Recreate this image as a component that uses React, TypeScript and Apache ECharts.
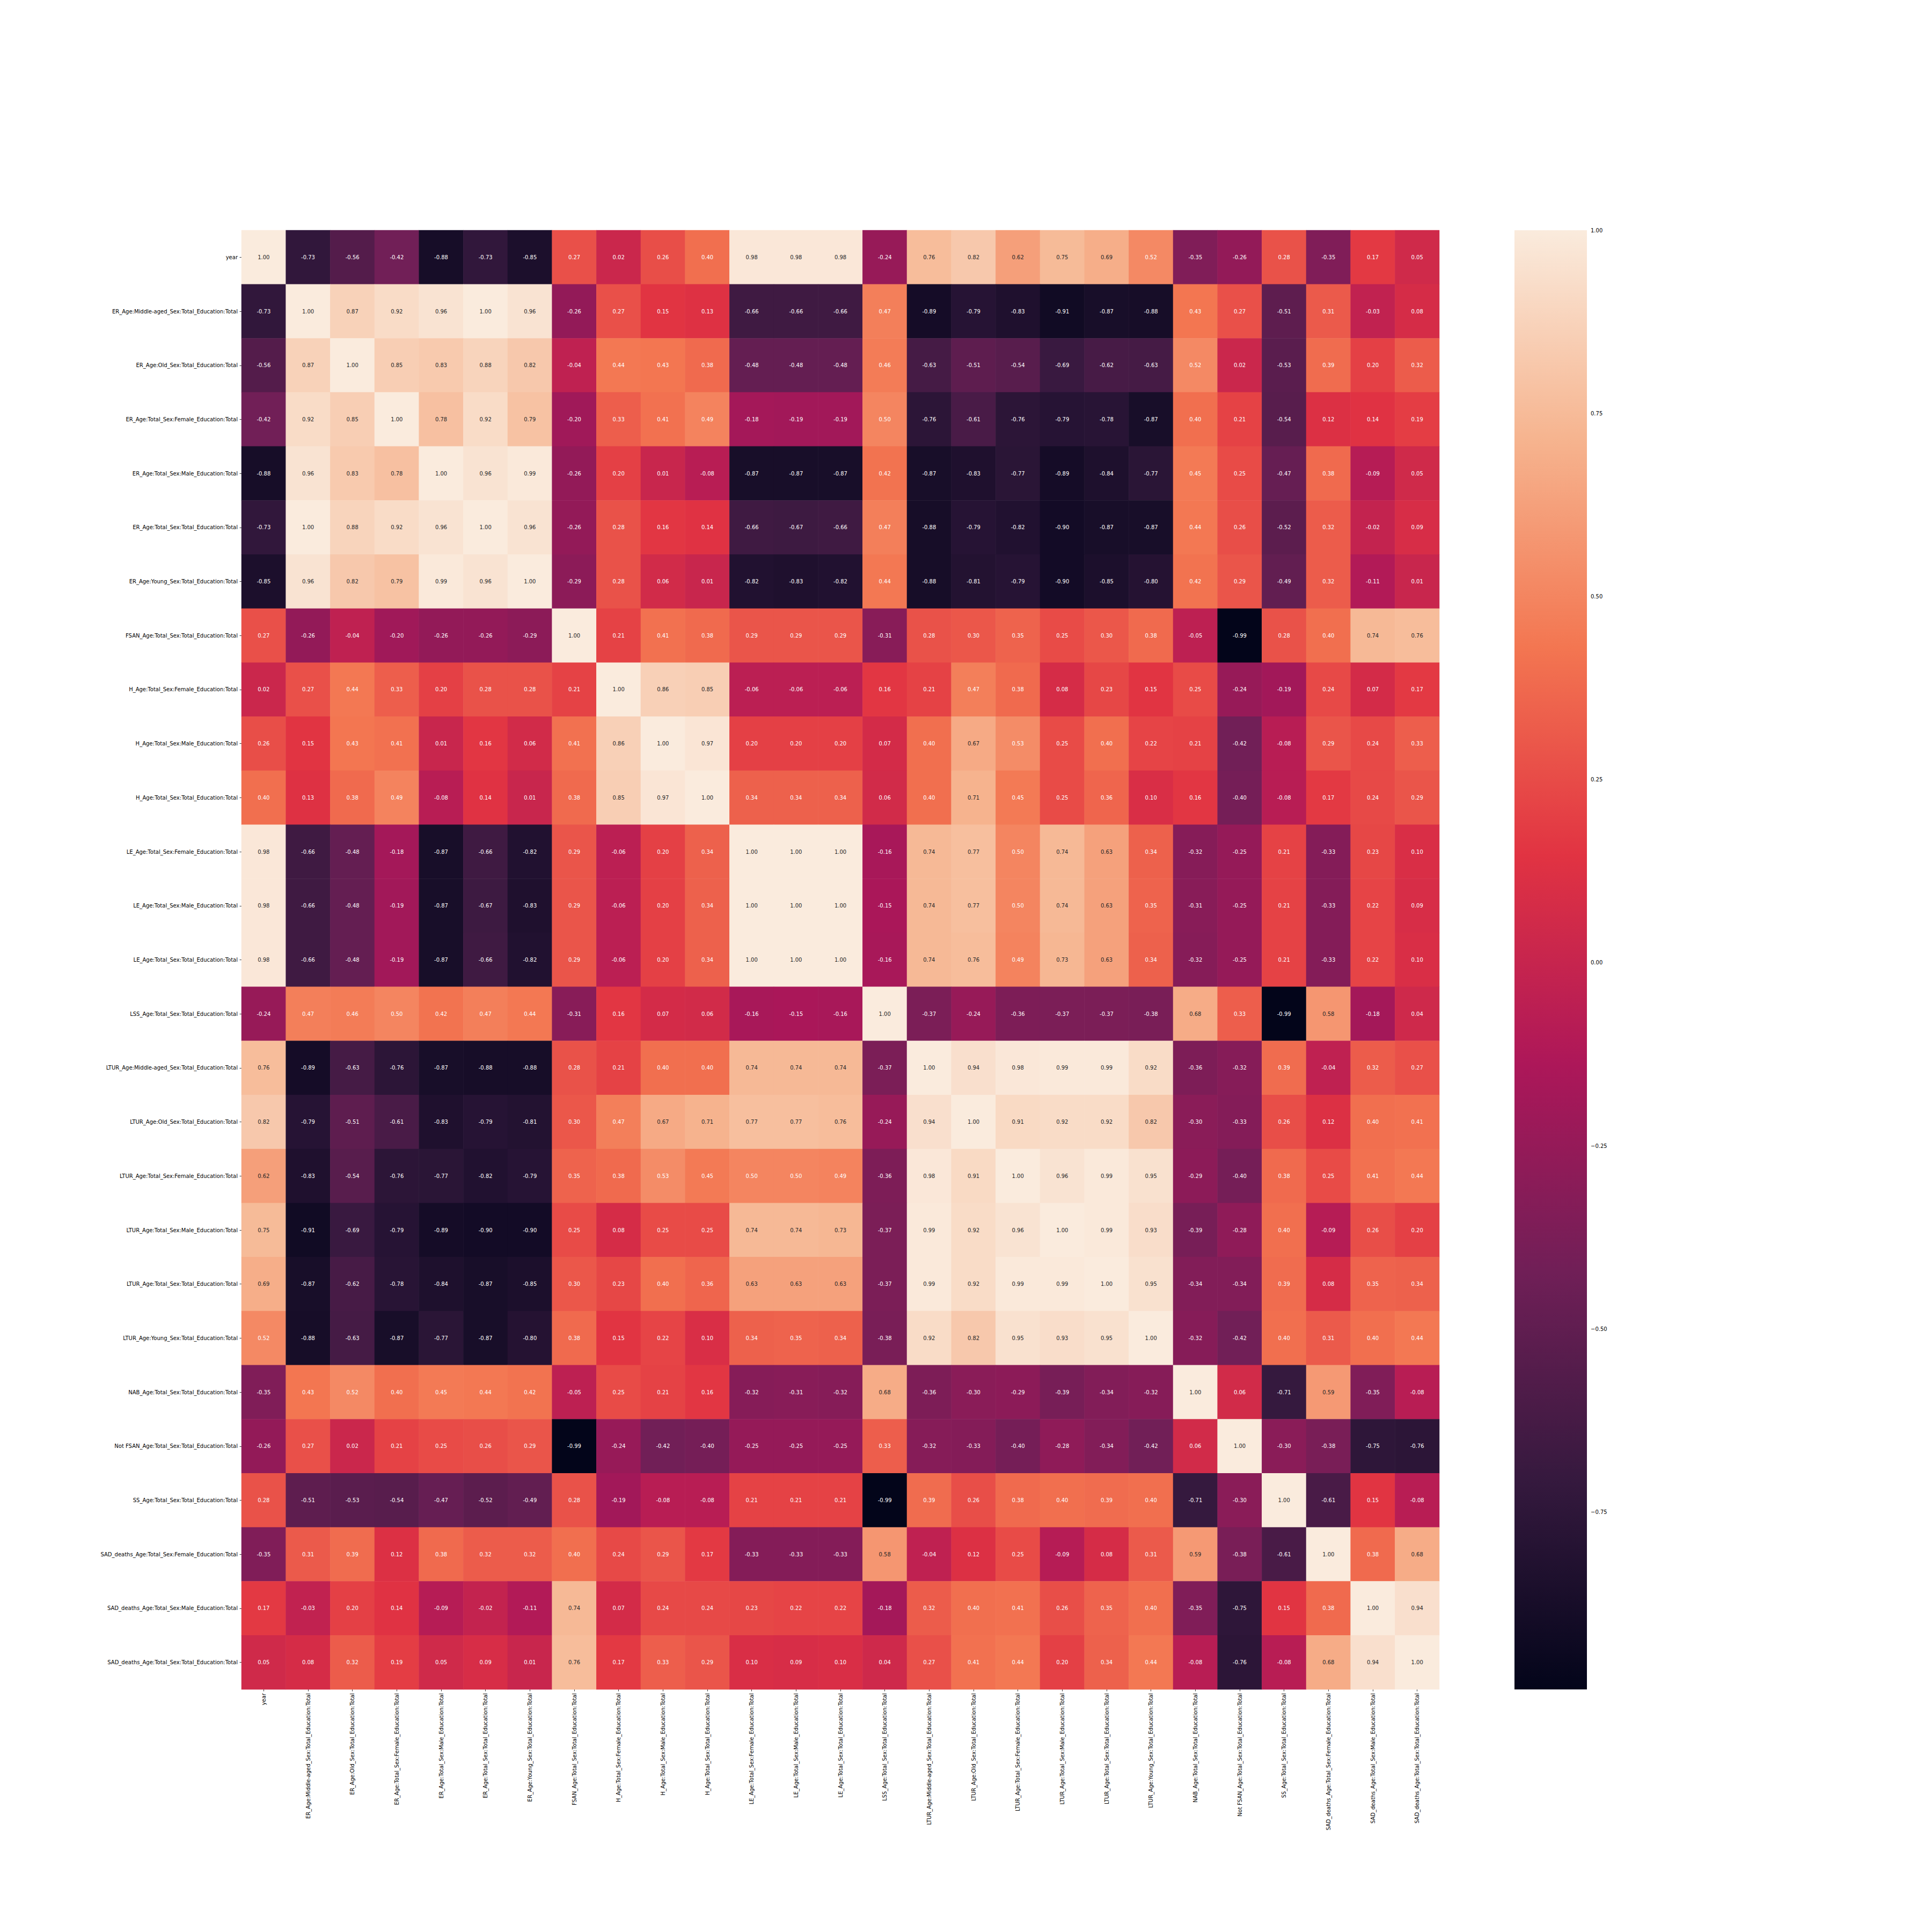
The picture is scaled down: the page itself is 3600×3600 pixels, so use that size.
import React, { useEffect, useRef } from "react";
import * as echarts from "echarts";

const labels = [
  "year",
  "ER_Age:Middle-aged_Sex:Total_Education:Total",
  "ER_Age:Old_Sex:Total_Education:Total",
  "ER_Age:Total_Sex:Female_Education:Total",
  "ER_Age:Total_Sex:Male_Education:Total",
  "ER_Age:Total_Sex:Total_Education:Total",
  "ER_Age:Young_Sex:Total_Education:Total",
  "FSAN_Age:Total_Sex:Total_Education:Total",
  "H_Age:Total_Sex:Female_Education:Total",
  "H_Age:Total_Sex:Male_Education:Total",
  "H_Age:Total_Sex:Total_Education:Total",
  "LE_Age:Total_Sex:Female_Education:Total",
  "LE_Age:Total_Sex:Male_Education:Total",
  "LE_Age:Total_Sex:Total_Education:Total",
  "LSS_Age:Total_Sex:Total_Education:Total",
  "LTUR_Age:Middle-aged_Sex:Total_Education:Total",
  "LTUR_Age:Old_Sex:Total_Education:Total",
  "LTUR_Age:Total_Sex:Female_Education:Total",
  "LTUR_Age:Total_Sex:Male_Education:Total",
  "LTUR_Age:Total_Sex:Total_Education:Total",
  "LTUR_Age:Young_Sex:Total_Education:Total",
  "NAB_Age:Total_Sex:Total_Education:Total",
  "Not FSAN_Age:Total_Sex:Total_Education:Total",
  "SS_Age:Total_Sex:Total_Education:Total",
  "SAD_deaths_Age:Total_Sex:Female_Education:Total",
  "SAD_deaths_Age:Total_Sex:Male_Education:Total",
  "SAD_deaths_Age:Total_Sex:Total_Education:Total",
];

const rowYear = [1.00, -0.73, -0.56, -0.42, -0.88, -0.73, -0.85, 0.27, 0.02, 0.26, 0.40, 0.98, 0.98, 0.98, -0.24, 0.76, 0.82, 0.62, 0.75, 0.69, 0.52, -0.35, -0.26, 0.28, -0.35, 0.17, 0.05];
const rowErMid = [-0.73, 1.00, 0.87, 0.92, 0.96, 1.00, 0.96, -0.26, 0.27, 0.15, 0.13, -0.66, -0.66, -0.66, 0.47, -0.89, -0.79, -0.83, -0.91, -0.87, -0.88, 0.43, 0.27, -0.51, 0.31, -0.03, 0.08];
const rowErOld = [-0.56, 0.87, 1.00, 0.85, 0.83, 0.88, 0.82, -0.04, 0.44, 0.43, 0.38, -0.48, -0.48, -0.48, 0.46, -0.63, -0.51, -0.54, -0.69, -0.62, -0.63, 0.52, 0.02, -0.53, 0.39, 0.20, 0.32];
const rowErFem = [-0.42, 0.92, 0.85, 1.00, 0.78, 0.92, 0.79, -0.20, 0.33, 0.41, 0.49, -0.18, -0.19, -0.19, 0.50, -0.76, -0.61, -0.76, -0.79, -0.78, -0.87, 0.40, 0.21, -0.54, 0.12, 0.14, 0.19];
const rowErMale = [-0.88, 0.96, 0.83, 0.78, 1.00, 0.96, 0.99, -0.26, 0.20, 0.01, -0.08, -0.87, -0.87, -0.87, 0.42, -0.87, -0.83, -0.77, -0.89, -0.84, -0.77, 0.45, 0.25, -0.47, 0.38, -0.09, 0.05];
const rowErTot = [-0.73, 1.00, 0.88, 0.92, 0.96, 1.00, 0.96, -0.26, 0.28, 0.16, 0.14, -0.66, -0.67, -0.66, 0.47, -0.88, -0.79, -0.82, -0.90, -0.87, -0.87, 0.44, 0.26, -0.52, 0.32, -0.02, 0.09];
const rowErYoung = [-0.85, 0.96, 0.82, 0.79, 0.99, 0.96, 1.00, -0.29, 0.28, 0.06, 0.01, -0.82, -0.83, -0.82, 0.44, -0.88, -0.81, -0.79, -0.90, -0.85, -0.80, 0.42, 0.29, -0.49, 0.32, -0.11, 0.01];
const rowFsan = [0.27, -0.26, -0.04, -0.20, -0.26, -0.26, -0.29, 1.00, 0.21, 0.41, 0.38, 0.29, 0.29, 0.29, -0.31, 0.28, 0.30, 0.35, 0.25, 0.30, 0.38, -0.05, -0.99, 0.28, 0.40, 0.74, 0.76];
const rowHFem = [0.02, 0.27, 0.44, 0.33, 0.20, 0.28, 0.28, 0.21, 1.00, 0.86, 0.85, -0.06, -0.06, -0.06, 0.16, 0.21, 0.47, 0.38, 0.08, 0.23, 0.15, 0.25, -0.24, -0.19, 0.24, 0.07, 0.17];
const rowHMale = [0.26, 0.15, 0.43, 0.41, 0.01, 0.16, 0.06, 0.41, 0.86, 1.00, 0.97, 0.20, 0.20, 0.20, 0.07, 0.40, 0.67, 0.53, 0.25, 0.40, 0.22, 0.21, -0.42, -0.08, 0.29, 0.24, 0.33];
const rowHTot = [0.40, 0.13, 0.38, 0.49, -0.08, 0.14, 0.01, 0.38, 0.85, 0.97, 1.00, 0.34, 0.34, 0.34, 0.06, 0.40, 0.71, 0.45, 0.25, 0.36, 0.10, 0.16, -0.40, -0.08, 0.17, 0.24, 0.29];
const rowLeFem = [0.98, -0.66, -0.48, -0.18, -0.87, -0.66, -0.82, 0.29, -0.06, 0.20, 0.34, 1.00, 1.00, 1.00, -0.16, 0.74, 0.77, 0.50, 0.74, 0.63, 0.34, -0.32, -0.25, 0.21, -0.33, 0.23, 0.10];
const rowLeMale = [0.98, -0.66, -0.48, -0.19, -0.87, -0.67, -0.83, 0.29, -0.06, 0.20, 0.34, 1.00, 1.00, 1.00, -0.15, 0.74, 0.77, 0.50, 0.74, 0.63, 0.35, -0.31, -0.25, 0.21, -0.33, 0.22, 0.09];
const rowLeTot = [0.98, -0.66, -0.48, -0.19, -0.87, -0.66, -0.82, 0.29, -0.06, 0.20, 0.34, 1.00, 1.00, 1.00, -0.16, 0.74, 0.76, 0.49, 0.73, 0.63, 0.34, -0.32, -0.25, 0.21, -0.33, 0.22, 0.10];
const rowLss = [-0.24, 0.47, 0.46, 0.50, 0.42, 0.47, 0.44, -0.31, 0.16, 0.07, 0.06, -0.16, -0.15, -0.16, 1.00, -0.37, -0.24, -0.36, -0.37, -0.37, -0.38, 0.68, 0.33, -0.99, 0.58, -0.18, 0.04];
const rowLturMid = [0.76, -0.89, -0.63, -0.76, -0.87, -0.88, -0.88, 0.28, 0.21, 0.40, 0.40, 0.74, 0.74, 0.74, -0.37, 1.00, 0.94, 0.98, 0.99, 0.99, 0.92, -0.36, -0.32, 0.39, -0.04, 0.32, 0.27];
const rowLturOld = [0.82, -0.79, -0.51, -0.61, -0.83, -0.79, -0.81, 0.30, 0.47, 0.67, 0.71, 0.77, 0.77, 0.76, -0.24, 0.94, 1.00, 0.91, 0.92, 0.92, 0.82, -0.30, -0.33, 0.26, 0.12, 0.40, 0.41];
const rowLturFem = [0.62, -0.83, -0.54, -0.76, -0.77, -0.82, -0.79, 0.35, 0.38, 0.53, 0.45, 0.50, 0.50, 0.49, -0.36, 0.98, 0.91, 1.00, 0.96, 0.99, 0.95, -0.29, -0.40, 0.38, 0.25, 0.41, 0.44];
const rowLturMale = [0.75, -0.91, -0.69, -0.79, -0.89, -0.90, -0.90, 0.25, 0.08, 0.25, 0.25, 0.74, 0.74, 0.73, -0.37, 0.99, 0.92, 0.96, 1.00, 0.99, 0.93, -0.39, -0.28, 0.40, -0.09, 0.26, 0.20];
const rowLturTot = [0.69, -0.87, -0.62, -0.78, -0.84, -0.87, -0.85, 0.30, 0.23, 0.40, 0.36, 0.63, 0.63, 0.63, -0.37, 0.99, 0.92, 0.99, 0.99, 1.00, 0.95, -0.34, -0.34, 0.39, 0.08, 0.35, 0.34];
const rowLturYoung = [0.52, -0.88, -0.63, -0.87, -0.77, -0.87, -0.80, 0.38, 0.15, 0.22, 0.10, 0.34, 0.35, 0.34, -0.38, 0.92, 0.82, 0.95, 0.93, 0.95, 1.00, -0.32, -0.42, 0.40, 0.31, 0.40, 0.44];
const rowNab = [-0.35, 0.43, 0.52, 0.40, 0.45, 0.44, 0.42, -0.05, 0.25, 0.21, 0.16, -0.32, -0.31, -0.32, 0.68, -0.36, -0.30, -0.29, -0.39, -0.34, -0.32, 1.00, 0.06, -0.71, 0.59, -0.35, -0.08];
const rowNotFsan = [-0.26, 0.27, 0.02, 0.21, 0.25, 0.26, 0.29, -0.99, -0.24, -0.42, -0.40, -0.25, -0.25, -0.25, 0.33, -0.32, -0.33, -0.40, -0.28, -0.34, -0.42, 0.06, 1.00, -0.30, -0.38, -0.75, -0.76];
const rowSs = [0.28, -0.51, -0.53, -0.54, -0.47, -0.52, -0.49, 0.28, -0.19, -0.08, -0.08, 0.21, 0.21, 0.21, -0.99, 0.39, 0.26, 0.38, 0.40, 0.39, 0.40, -0.71, -0.30, 1.00, -0.61, 0.15, -0.08];
const rowSadFem = [-0.35, 0.31, 0.39, 0.12, 0.38, 0.32, 0.32, 0.40, 0.24, 0.29, 0.17, -0.33, -0.33, -0.33, 0.58, -0.04, 0.12, 0.25, -0.09, 0.08, 0.31, 0.59, -0.38, -0.61, 1.00, 0.38, 0.68];
const rowSadMale = [0.17, -0.03, 0.20, 0.14, -0.09, -0.02, -0.11, 0.74, 0.07, 0.24, 0.24, 0.23, 0.22, 0.22, -0.18, 0.32, 0.40, 0.41, 0.26, 0.35, 0.40, -0.35, -0.75, 0.15, 0.38, 1.00, 0.94];
const rowSadTot = [0.05, 0.08, 0.32, 0.19, 0.05, 0.09, 0.01, 0.76, 0.17, 0.33, 0.29, 0.10, 0.09, 0.10, 0.04, 0.27, 0.41, 0.44, 0.20, 0.34, 0.44, -0.08, -0.76, -0.08, 0.68, 0.94, 1.00];

const matrixRows = [
  rowYear, rowErMid, rowErOld, rowErFem, rowErMale, rowErTot, rowErYoung, rowFsan,
  rowHFem, rowHMale, rowHTot, rowLeFem, rowLeMale, rowLeTot, rowLss, rowLturMid,
  rowLturOld, rowLturFem, rowLturMale, rowLturTot, rowLturYoung, rowNab, rowNotFsan,
  rowSs, rowSadFem, rowSadMale, rowSadTot,
];

const vMin = -0.992;
const vMax = 1.0;
const rocketStops = ["#03051A", "#35193E", "#701F57", "#AD1759", "#E13342", "#F37651", "#F6B48F", "#FAEBDD"];
const colorbarTicks = [-0.75, -0.5, -0.25, 0, 0.25, 0.5, 0.75, 1.0];

export default function App() {
  const ref = useRef<HTMLDivElement>(null);
  useEffect(() => {
    const chart = echarts.init(ref.current!, null, { renderer: "svg" });
    const font = "DejaVu Sans";
    const data: any[] = [];
    matrixRows.forEach((row, yi) =>
      row.forEach((v, xi) =>
        data.push({ value: [xi, yi, v], label: { color: v >= 0.55 ? "#262626" : "#ffffff" } })
      )
    );
    const tickStyle = { show: true, length: 3.5, lineStyle: { color: "#000000", width: 0.8 } };
    const gradStops = rocketStops
      .slice()
      .reverse()
      .map((c, i) => ({ offset: i / (rocketStops.length - 1), color: c }));
    chart.setOption({
      animation: false,
      backgroundColor: "#ffffff",
      grid: [
        { left: 450, top: 429, width: 2232, height: 2719 },
        { left: 2822, top: 429, width: 135, height: 2719 },
      ],
      xAxis: [
        {
          type: "category",
          data: labels,
          gridIndex: 0,
          axisLine: { show: false },
          axisTick: { ...tickStyle, alignWithLabel: true, interval: 0 },
          axisLabel: { rotate: 90, fontSize: 10, color: "#000000", fontFamily: font, margin: 7, interval: 0 },
          splitLine: { show: false },
          splitArea: { show: false },
        },
        { type: "value", gridIndex: 1, min: 0, max: 1, show: false },
      ],
      yAxis: [
        {
          type: "category",
          data: labels,
          inverse: true,
          gridIndex: 0,
          axisLine: { show: false },
          axisTick: { ...tickStyle, alignWithLabel: true, interval: 0 },
          axisLabel: { fontSize: 10, color: "#000000", fontFamily: font, margin: 7, interval: 0 },
          splitLine: { show: false },
          splitArea: { show: false },
        },
        {
          type: "value",
          gridIndex: 1,
          min: vMin,
          max: vMax,
          position: "right",
          axisLine: { show: false },
          splitLine: { show: false },
          axisTick: { ...tickStyle, customValues: colorbarTicks },
          axisLabel: {
            customValues: colorbarTicks,
            fontSize: 10,
            color: "#000000",
            fontFamily: font,
            margin: 7,
            formatter: (v: number) => (v < 0 ? "\u2212" : "") + Math.abs(v).toFixed(2),
          },
        },
      ],
      visualMap: {
        show: false,
        type: "continuous",
        min: vMin,
        max: vMax,
        dimension: 2,
        seriesIndex: 0,
        inRange: { color: rocketStops },
      },
      series: [
        {
          type: "heatmap",
          xAxisIndex: 0,
          yAxisIndex: 0,
          data,
          label: {
            show: true,
            fontSize: 10,
            fontFamily: font,
            formatter: (p: any) => Number(p.value[2]).toFixed(2),
          },
          itemStyle: { borderWidth: 0 },
          emphasis: { disabled: true },
        },
        {
          type: "custom",
          xAxisIndex: 1,
          yAxisIndex: 1,
          silent: true,
          data: [[0, vMin, vMax]],
          renderItem: (_params: any, api: any) => {
            const top = api.coord([0, api.value(2)]);
            const bot = api.coord([1, api.value(1)]);
            return {
              type: "rect",
              shape: { x: top[0], y: top[1], width: bot[0] - top[0], height: bot[1] - top[1] },
              style: { fill: new echarts.graphic.LinearGradient(0, 0, 0, 1, gradStops) },
            };
          },
        },
      ],
    });
    return () => chart.dispose();
  }, []);
  return <div ref={ref} style={{ position: "absolute", left: 0, top: 0, width: 3600, height: 3600 }} />;
}
